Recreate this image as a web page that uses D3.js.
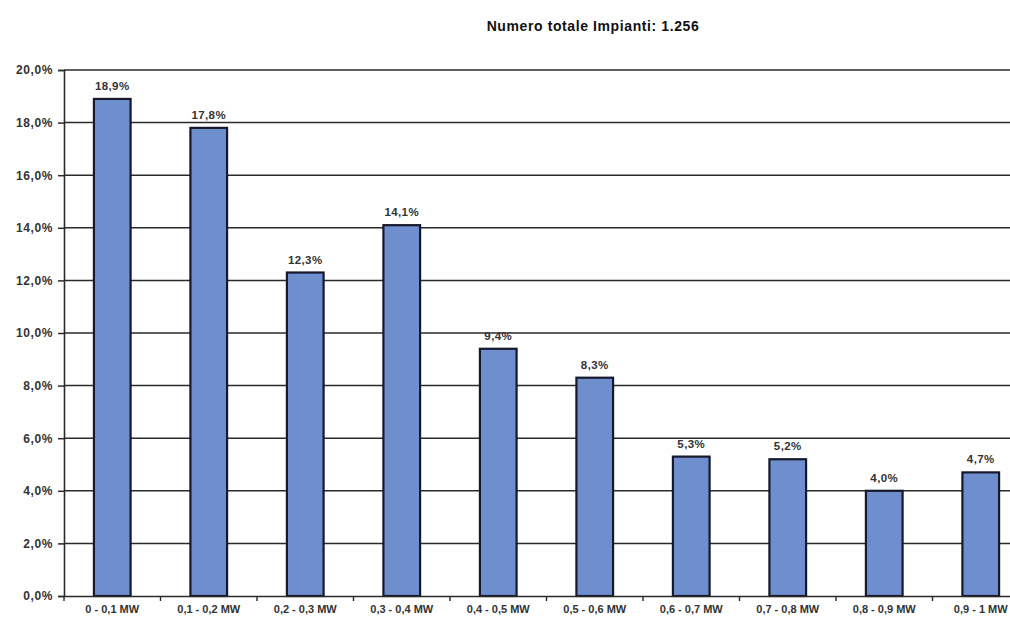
<!DOCTYPE html>
<html>
<head>
<meta charset="utf-8">
<script src="https://cdn.jsdelivr.net/npm/d3@7"></script>
<style>
  body { margin: 0; background: #fff; }
  svg { display: block; font-family: "Liberation Sans", Arial, sans-serif; }
</style>
</head>
<body>
<svg id="chart" width="1010" height="621"></svg>
<script>
const categories = ["0 - 0,1 MW", "0,1 - 0,2 MW", "0,2 - 0,3 MW", "0,3 - 0,4 MW", "0,4 - 0,5 MW",
  "0,5 - 0,6 MW", "0,6 - 0,7 MW", "0,7 - 0,8 MW", "0,8 - 0,9 MW", "0,9 - 1 MW"];
const values = [18.9, 17.8, 12.3, 14.1, 9.4, 8.3, 5.3, 5.2, 4.0, 4.7];
const yTicks = [0, 2, 4, 6, 8, 10, 12, 14, 16, 18, 20];
const title = "Numero totale Impianti: 1.256";

const svg = d3.select('#chart');
const margin = { left: 64, top: 70, bottom: 596 };
const bandW = 96.5;

const fmt = v => v.toFixed(1).replace('.', ',') + '%';

const x = d3.scaleBand()
  .domain(categories)
  .range([margin.left, margin.left + bandW * categories.length])
  .paddingInner(0.62)
  .paddingOuter(0.31);

const y = d3.scaleLinear().domain([0, 20]).range([margin.bottom, margin.top]);

// gridlines
svg.append('g')
  .selectAll('line')
  .data(yTicks.filter(d => d > 0))
  .enter()
  .append('line')
  .attr('x1', margin.left)
  .attr('x2', 1010)
  .attr('y1', d => y(d))
  .attr('y2', d => y(d))
  .attr('stroke', '#2a2a2a')
  .attr('stroke-width', 1.5);

// bars
svg.append('g')
  .selectAll('rect')
  .data(values)
  .enter()
  .append('rect')
  .attr('x', (d, i) => x(categories[i]))
  .attr('width', x.bandwidth())
  .attr('y', d => y(d))
  .attr('height', d => y(0) - y(d))
  .attr('fill', '#6e8ecd')
  .attr('stroke', '#15192b')
  .attr('stroke-width', 2.2);

// value labels
svg.append('g')
  .selectAll('text')
  .data(values)
  .enter()
  .append('text')
  .attr('x', (d, i) => x(categories[i]) + x.bandwidth() / 2)
  .attr('y', d => y(d) - 9)
  .attr('text-anchor', 'middle')
  .attr('font-size', 11.5)
  .attr('font-weight', 'bold')
  .attr('letter-spacing', 0.4)
  .attr('fill', '#333')
  .text(fmt);

// y axis
const yAxis = svg.append('g')
  .attr('transform', `translate(${margin.left},0)`)
  .call(d3.axisLeft(y).tickValues(yTicks).tickSize(6).tickPadding(5).tickFormat(fmt));
yAxis.select('.domain').attr('stroke', '#2a2a2a').attr('stroke-width', 1.6);
yAxis.selectAll('.tick line').attr('stroke', '#2a2a2a').attr('stroke-width', 1.5);
yAxis.selectAll('text')
  .attr('font-size', 12)
  .attr('font-weight', 'bold')
  .attr('letter-spacing', 0.6)
  .attr('fill', '#333')
  .attr('font-family', '"Liberation Sans", Arial, sans-serif');

// x axis
const xAxis = svg.append('g')
  .attr('transform', `translate(0,${margin.bottom})`)
  .call(d3.axisBottom(x).tickSize(0).tickPadding(9));
xAxis.select('.domain').attr('stroke', '#2a2a2a').attr('stroke-width', 1.6);
xAxis.selectAll('text')
  .attr('font-size', 11)
  .attr('font-weight', 'bold')
  .attr('fill', '#333')
  .attr('font-family', '"Liberation Sans", Arial, sans-serif');

// category boundary ticks
svg.append('g')
  .selectAll('line')
  .data(d3.range(categories.length + 1))
  .enter()
  .append('line')
  .attr('x1', i => margin.left + i * bandW)
  .attr('x2', i => margin.left + i * bandW)
  .attr('y1', margin.bottom)
  .attr('y2', margin.bottom + 5)
  .attr('stroke', '#2a2a2a')
  .attr('stroke-width', 1.4);

// title
svg.append('text')
  .attr('x', 593)
  .attr('y', 31)
  .attr('text-anchor', 'middle')
  .attr('font-size', 14)
  .attr('font-weight', 'bold')
  .attr('letter-spacing', 0.6)
  .attr('fill', '#111')
  .text(title);
</script>
</body>
</html>
